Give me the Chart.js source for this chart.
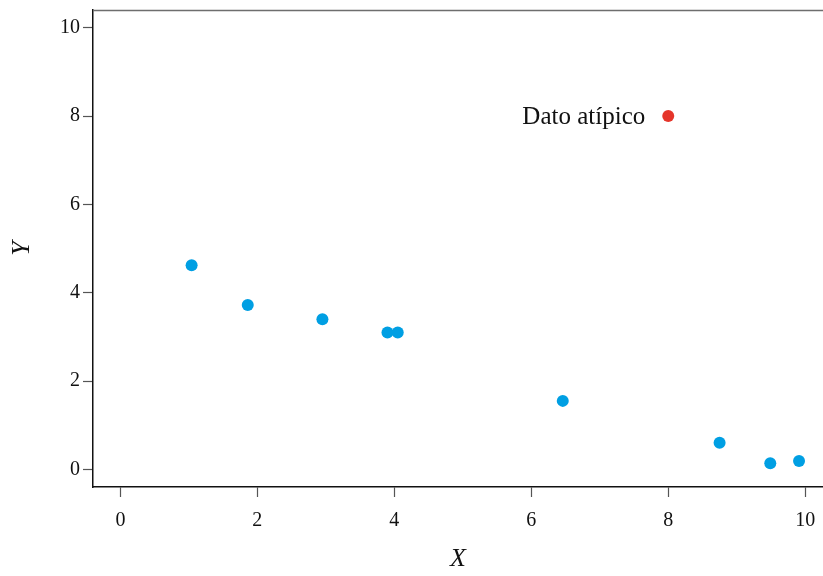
<!DOCTYPE html>
<html>
<head>
<meta charset="utf-8">
<script src="https://cdn.jsdelivr.net/npm/chart.js@4.4.1/dist/chart.umd.min.js"></script>
<style>
  html, body { margin: 0; padding: 0; background: #fff; }
  #wrap { width: 823px; height: 576px; }
</style>
</head>
<body>
<div id="wrap"><canvas id="c" width="823" height="576"></canvas></div>
<script>
const xValues = [1.04, 1.86, 2.95, 3.90, 4.05, 6.46, 8.75, 9.49, 9.91];
const yValues = [4.62, 3.72, 3.40, 3.10, 3.10, 1.55, 0.60, 0.14, 0.19];
const outlierX = [8.0];
const outlierY = [8.0];
const outlierLabel = 'Dato atípico';
const xTicks = [0, 2, 4, 6, 8, 10];
const yTicks = [0, 2, 4, 6, 8, 10];
const xTitle = 'X';
const yTitle = 'Y';

const FONT = "'Liberation Serif', 'DejaVu Serif', serif";

const mainPoints = xValues.map((x, i) => ({ x: x, y: yValues[i] }));
const outPoints = outlierX.map((x, i) => ({ x: x, y: outlierY[i] }));

const framePlugin = {
  id: 'frame',
  afterDraw(chart) {
    const ctx = chart.ctx, a = chart.chartArea;
    ctx.save();
    ctx.strokeStyle = '#6e6e6e';
    ctx.lineWidth = 1.5;
    ctx.beginPath();
    ctx.moveTo(a.left, a.top + 0.5);
    ctx.lineTo(a.right, a.top + 0.5);
    ctx.stroke();
    ctx.restore();
  }
};

const labelPlugin = {
  id: 'outlierLabel',
  afterDatasetsDraw(chart) {
    const meta = chart.getDatasetMeta(1);
    const el = meta.data[0];
    if (!el) return;
    const ctx = chart.ctx;
    ctx.save();
    ctx.font = "25px " + FONT;
    ctx.fillStyle = '#111';
    ctx.textAlign = 'right';
    ctx.textBaseline = 'middle';
    ctx.fillText(outlierLabel, el.x - 23, el.y + 1);
    ctx.restore();
  }
};

new Chart(document.getElementById('c'), {
  type: 'scatter',
  data: {
    datasets: [
      {
        data: mainPoints,
        backgroundColor: '#009fe3',
        borderColor: '#009fe3',
        pointRadius: 6,
        pointHoverRadius: 6,
        borderWidth: 0
      },
      {
        data: outPoints,
        backgroundColor: '#e5352a',
        borderColor: '#e5352a',
        pointRadius: 6,
        pointHoverRadius: 6,
        borderWidth: 0
      }
    ]
  },
  options: {
    responsive: false,
    animation: false,
    devicePixelRatio: 1,
    layout: { autoPadding: false, padding: { top: 10, left: 0, right: 0, bottom: 0 } },
    plugins: { legend: { display: false }, tooltip: { enabled: false } },
    scales: {
      x: {
        type: 'linear',
        min: -0.4,
        max: 10.26,
        afterBuildTicks(scale) { scale.ticks = xTicks.map(v => ({ value: v })); },
        afterFit(scale) { scale.height = 89; scale.paddingLeft = 0; scale.paddingRight = 0; },
        grid: { drawOnChartArea: false, drawTicks: true, tickLength: 10, color: '#555', tickColor: '#555', tickWidth: 1.2 },
        border: { display: true, color: '#111', width: 1.5 },
        ticks: { color: '#111', font: { family: FONT, size: 20 }, padding: 12, maxRotation: 0 },
        title: { display: true, text: xTitle, color: '#111', font: { family: FONT, size: 26, style: 'italic' }, padding: { top: 0, bottom: 1 } }
      },
      y: {
        type: 'linear',
        min: -0.4,
        max: 10.4,
        afterBuildTicks(scale) { scale.ticks = yTicks.map(v => ({ value: v })); },
        afterFit(scale) { scale.width = 93; scale.paddingTop = 0; scale.paddingBottom = 0; },
        grid: { drawOnChartArea: false, drawTicks: true, tickLength: 10, color: '#555', tickColor: '#555', tickWidth: 1.2 },
        border: { display: true, color: '#111', width: 1.5 },
        ticks: { color: '#111', font: { family: FONT, size: 20 }, padding: 3 },
        title: { display: true, text: yTitle, color: '#111', font: { family: FONT, size: 26, style: 'italic' }, padding: { top: 7, bottom: 0 } }
      }
    }
  },
  plugins: [framePlugin, labelPlugin]
});
</script>
</body>
</html>
